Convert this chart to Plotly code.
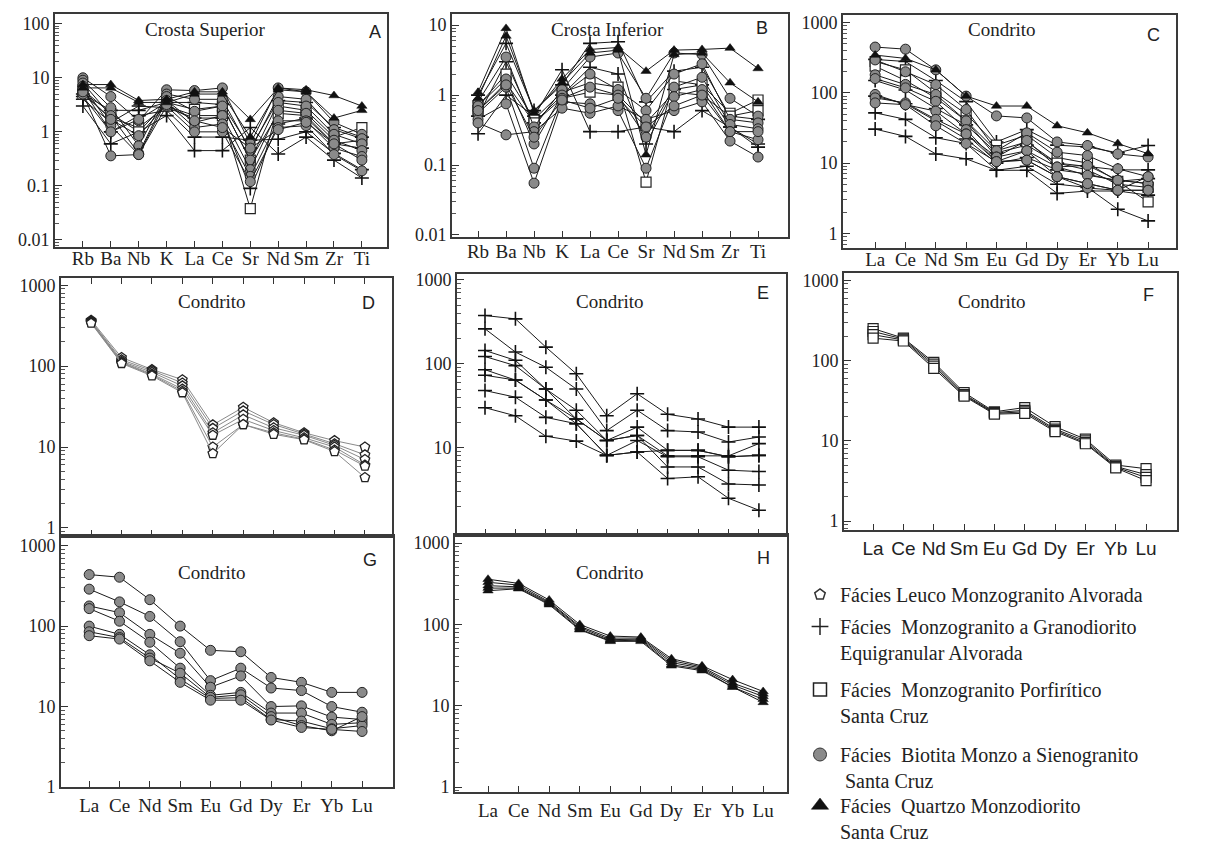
import math
import plotly.graph_objects as go

W, H = 1225, 844

SPIDER = ["Rb", "Ba", "Nb", "K", "La", "Ce", "Sr", "Nd", "Sm", "Zr", "Ti"]
REE = ["La", "Ce", "Nd", "Sm", "Eu", "Gd", "Dy", "Er", "Yb", "Lu"]

# ---------------- Panel A (Crosta Superior) ----------------
A_triangle = [
    [7.5, 7.5, 3.8, 4.0, 5.5, 5.5, 1.7, 6.5, 6.0, 4.7, 3.0],
    [6.5, 6.5, 3.5, 3.5, 5.0, 5.0, 0.8, 6.0, 5.5, 1.8, 2.5],
]
A_circle = [
    [10, 4.5, 1.6, 6.0, 5.8, 6.5, 0.6, 6.5, 5.5, 1.5, 0.9],
    [9, 2.8, 0.55, 5.0, 4.0, 4.0, 0.45, 4.5, 4.0, 1.1, 0.75],
    [8, 2.0, 0.4, 4.5, 2.4, 3.0, 0.3, 3.5, 3.0, 0.9, 0.6],
    [7, 1.3, 0.38, 3.8, 1.5, 2.0, 0.2, 2.5, 2.2, 0.7, 0.45],
    [6, 1.0, 1.7, 3.5, 1.2, 1.4, 0.15, 1.6, 1.6, 0.5, 0.35],
    [5, 0.36, 0.38, 3.0, 1.0, 1.0, 0.12, 1.2, 1.3, 0.38, 0.19],
    [5.5, 1.7, 0.85, 3.2, 1.6, 1.2, 0.5, 1.1, 1.5, 0.6, 0.3],
]
A_square = [
    [5, 1.8, 1.2, 3.0, 2.0, 2.0, 0.038, 3.0, 2.5, 0.8, 1.2],
    [6, 2.2, 1.0, 3.5, 2.6, 3.0, 0.3, 2.2, 2.0, 0.6, 0.7],
]
A_cross = [
    [3.0, 0.6, 1.0, 2.0, 0.45, 0.45, 1.2, 0.39, 0.8, 0.3, 0.14],
    [4.5, 1.0, 2.0, 2.5, 0.8, 0.8, 0.7, 0.73, 1.0, 0.4, 0.2],
    [5, 2.5, 2.5, 3.5, 3.5, 3.2, 0.5, 3.8, 3.5, 1.2, 0.8],
    [4, 1.5, 3.0, 2.8, 1.8, 1.8, 0.09, 1.4, 1.8, 0.6, 0.5],
]

# ---------------- Panel B (Crosta Inferior) ----------------
B_triangle = [
    [1.1, 9, 0.55, 1.7, 4.5, 4.8, 2.2, 4.4, 4.5, 4.7, 2.4],
    [0.9, 7, 0.6, 1.5, 4.0, 4.4, 0.14, 3.8, 4.0, 1.5, 0.8],
]
B_circle = [
    [0.8, 3.5, 0.35, 1.2, 3.5, 4.0, 0.9, 4.0, 3.8, 0.9, 0.5],
    [0.7, 1.7, 0.2, 1.0, 2.0, 1.2, 0.6, 2.0, 2.8, 0.45, 0.4],
    [0.55, 1.3, 0.09, 0.9, 1.3, 1.0, 0.25, 1.3, 1.8, 0.38, 0.33],
    [0.45, 0.75, 0.055, 0.8, 0.75, 0.6, 0.09, 0.95, 1.2, 0.3, 0.23],
    [0.4, 0.27, 0.3, 0.65, 0.55, 0.7, 0.45, 0.6, 0.8, 0.22, 0.13],
    [0.6, 1.4, 0.25, 0.85, 0.65, 0.9, 0.35, 0.7, 1.0, 0.3, 0.3],
]
B_square = [
    [0.7, 2.0, 0.45, 1.1, 1.5, 1.3, 0.057, 1.6, 1.4, 0.55, 0.85],
    [0.6, 1.5, 0.4, 0.9, 1.1, 1.0, 0.4, 1.1, 1.0, 0.5, 0.6],
]
B_cross = [
    [0.28, 1.0, 0.5, 2.3, 0.3, 0.3, 0.35, 0.3, 0.6, 0.35, 0.2],
    [1.0, 5.5, 0.6, 1.4, 5.5, 5.8, 0.8, 2.2, 2.5, 0.5, 0.45],
    [0.5, 3.0, 0.4, 1.0, 2.5, 2.0, 0.2, 1.2, 1.4, 0.35, 0.18],
]

# ---------------- Panel C (Condrito, all facies) ----------------
C_circle = [
    [450, 420, 213, 90, 47, 44, 20, 17.8, 13.5, 12.2],
    [295, 200, 131, 58, 15, 27, 14.3, 12.8, 8.3, 6.4],
    [181, 132, 95, 40, 12.2, 21, 8.8, 9.3, 5.7, 5.1],
    [160, 118, 76, 30, 10.5, 15, 8.8, 6.7, 5.7, 5.1],
    [95, 68, 55, 26, 12.2, 15, 6.4, 5.1, 4.1, 4.1],
    [85, 72, 42, 26, 10.5, 11, 6.4, 4.4, 4.1, 6.4],
    [72, 68, 34, 19, 10.5, 11, 6.4, 5.1, 4.1, 4.1],
]
C_cross = [
    [300, 280, 150, 75, 20, 30, 18, 17, 14, 17.8],
    [150, 110, 60, 35, 14, 18, 10, 9, 8, 8],
    [90, 70, 40, 22, 10, 12, 8, 7, 5.5, 6],
    [52, 42, 23, 19, 7.9, 9, 5, 4.5, 2.2, 1.5],
    [30.5, 24, 13.5, 11.5, 7.9, 7.9, 3.7, 4, 4, 3.5],
]
C_square = [
    [280, 213, 100, 50, 18, 25, 12, 10, 5.5, 2.8],
    [240, 150, 85, 40, 15, 20, 10, 8, 5, 4.5],
]
C_triangle = [
    [346, 310, 213, 90, 65, 65, 34, 27, 19, 13.6],
]

# ---------------- Panel D (Leuco Monzogranito) ----------------
D_pentagon = [
    [370, 128, 91, 68, 18.8, 31, 20, 15, 12, 10],
    [360, 120, 88, 62, 17, 28, 19, 14.5, 11, 8],
    [355, 115, 84, 57, 15, 25, 17.3, 14, 10.5, 7],
    [350, 112, 80, 52, 14, 22, 16, 13, 10, 6],
    [345, 110, 78, 49, 10, 19, 15, 12.5, 9.2, 5.8],
    [340, 108, 76, 47, 8.3, 19, 14.4, 12.3, 8.8, 4.2],
]

# ---------------- Panel E (Monzogranito a Granodiorito) ----------------
E_cross = [
    [376, 343, 158, 76, 24, 44, 25, 22, 17.6, 17.6],
    [261, 138, 91, 50, 16, 28, 16, 15.4, 11.7, 13.4],
    [144, 110, 50, 28, 12.2, 17.6, 9.3, 9.3, 7.8, 8.1],
    [122, 95, 50, 22, 12.2, 14, 8.0, 8.0, 8.0, 11.2],
    [85, 64, 37, 19.3, 8.1, 12.2, 7.8, 7.8, 5.4, 5.2],
    [73, 64, 37, 22, 12.2, 14, 5.9, 5.9, 3.7, 3.6],
    [48, 40, 23, 19.3, 8.1, 8.9, 4.3, 4.5, 2.5, 1.8],
    [30, 24, 13.7, 12, 8.1, 8.9, 9.3, 9.3, 7.8, 8.1],
]

# ---------------- Panel F (Monzogranito Porfiritico) ----------------
F_square = [
    [250, 190, 95, 40, 23, 26, 15, 10.5, 5.0, 4.5],
    [230, 185, 90, 38, 22.5, 24, 14, 10, 4.8, 3.8],
    [210, 180, 85, 37, 22, 23, 13.5, 9.5, 4.7, 3.5],
    [190, 175, 80, 36, 21.5, 22, 13, 9.2, 4.6, 3.2],
]

# ---------------- Panel G (Biotita Monzo a Sienogranito) ----------------
G_circle = [
    [437, 405, 213, 100, 50, 48, 23, 20, 15, 15],
    [288, 200, 132, 64, 21, 30, 17, 15.8, 10, 8.5],
    [178, 147, 79, 46, 17.4, 24, 10, 10.2, 7.4, 6.9],
    [165, 115, 63, 30, 13.8, 15, 8.3, 8.3, 6.0, 6.3],
    [100, 79, 44, 22, 12.6, 12.9, 6.9, 6.6, 5.3, 5.8],
    [85, 72, 40, 26, 13, 14, 7.5, 5.8, 5.0, 7.5],
    [76, 69, 37, 20, 12, 12, 6.8, 5.5, 5.2, 4.9],
]

# ---------------- Panel H (Quartzo Monzodiorito) ----------------
H_triangle = [
    [360, 320, 200, 100, 72, 70, 38, 31, 21, 15],
    [330, 305, 190, 95, 68, 68, 36, 30, 19, 14],
    [300, 290, 185, 92, 65, 66, 34, 29, 18, 13],
    [280, 280, 180, 88, 63, 64, 32, 28, 17, 12],
    [260, 275, 175, 86, 62, 62, 31, 27, 17, 11],
]

LEGEND_NAMES = {
    "pentagon": "Fácies Leuco Monzogranito Alvorada",
    "cross": "Fácies\u00a0 Monzogranito a Granodiorito<br>Equigranular Alvorada",
    "square": "Fácies\u00a0 Monzogranito Porfirítico<br>Santa Cruz",
    "circle": "Fácies\u00a0 Biotita Monzo a Sienogranito<br>\u00a0Santa Cruz",
    "triangle": "Fácies\u00a0 Quartzo Monzodiorito<br>Santa Cruz",
}

# ---------------- styles ----------------
SERIF = "Liberation Serif, Times New Roman, serif"
SANS = "Liberation Sans, Arial, sans-serif"
INK = "#222222"
FRAME = "#3a3a3a"

MARKERS = {
    "circle": dict(symbol="circle", size=10, color="#8a8a8a", line=dict(color="#222", width=1)),
    "cross": dict(symbol="cross-thin-open", size=10, color="#111", line=dict(color="#111", width=1.6)),
    "square": dict(symbol="square", size=10, color="white", line=dict(color="#222", width=1.2)),
    "triangle": dict(symbol="triangle-up", size=9, color="#111", line=dict(color="#111", width=0.5)),
    "pentagon": dict(symbol="pentagon", size=10, color="white", line=dict(color="#222", width=1.3)),
}
LINES = {
    "circle": dict(color="#1a1a1a", width=1),
    "cross": dict(color="#1a1a1a", width=1),
    "square": dict(color="#1a1a1a", width=1),
    "triangle": dict(color="#1a1a1a", width=1),
    "pentagon": dict(color="#8a8a8a", width=1),
}

LOG_LABELS = {0.01: "0.01", 0.1: "0.1", 1: "1", 10: "10", 100: "100", 1000: "1000"}

panels = [
    dict(box=(55, 387, 14, 247), yr=(-2.13, 2.18), xr=(-1.0, 10.9), cats=SPIDER,
         yt=[0.01, 0.1, 1, 10, 100], xlab=True, standoff=-7, title="Crosta Superior", tpos=(205, 29),
         letter="A", lpos=(375, 32),
         groups=[("cross", A_cross), ("square", A_square), ("circle", A_circle), ("triangle", A_triangle)]),
    dict(box=(452, 788, 14, 237), yr=(-2.03, 1.16), xr=(-0.93, 11.07), cats=SPIDER,
         yt=[0.01, 0.1, 1, 10], xlab=True, standoff=-4, title="Crosta Inferior", tpos=(607, 29),
         letter="B", lpos=(762, 28),
         groups=[("cross", B_cross), ("square", B_square), ("circle", B_circle), ("triangle", B_triangle)]),
    dict(box=(843, 1176, 15, 248), yr=(-0.21, 3.11), xr=(-1.06, 9.92), cats=REE,
         yt=[1, 10, 100, 1000], xlab=True, standoff=-7, title="Condrito", tpos=(1002, 29),
         letter="C", lpos=(1153, 35),
         groups=[("cross", C_cross), ("square", C_square), ("circle", C_circle), ("triangle", C_triangle)]),
    dict(box=(61, 392, 278, 536), yr=(-0.1, 3.09), xr=(-0.99, 9.89), cats=REE,
         yt=[1, 10, 100, 1000], xlab=False, title="Condrito", tpos=(212, 301),
         letter="D", lpos=(368, 303), topticks=True,
         groups=[("pentagon", D_pentagon)]),
    dict(box=(457, 786, 274, 535), yr=(-0.04, 3.07), xr=(-0.92, 9.89), cats=REE,
         yt=[10, 100, 1000], xlab=False, title="Condrito", tpos=(610, 301),
         letter="E", lpos=(763, 293),
         groups=[("cross", E_cross)]),
    dict(box=(844, 1177, 273, 530), yr=(-0.11, 3.09), xr=(-0.96, 10.02), cats=REE,
         yt=[1, 10, 100, 1000], xlab=True, xfont=SANS, title="Condrito", tpos=(992, 301),
         letter="F", lpos=(1148, 295),
         groups=[("square", F_square)]),
    dict(box=(61, 393, 536, 787), yr=(0.0, 3.12), xr=(-0.93, 10.02), cats=REE,
         yt=[1, 10, 100, 1000], xlab=True, title="Condrito", tpos=(212, 572),
         letter="G", lpos=(370, 560),
         groups=[("circle", G_circle)]),
    dict(box=(455, 787, 535, 792), yr=(-0.06, 3.1), xr=(-1.08, 9.78), cats=REE,
         yt=[1, 10, 100, 1000], xlab=True, title="Condrito", tpos=(610, 572),
         letter="H", lpos=(763, 558),
         groups=[("triangle", H_triangle)]),
]

fig = go.Figure()
layout = dict(
    width=W, height=H,
    margin=dict(l=0, r=0, t=0, b=0, autoexpand=False),
    paper_bgcolor="white", plot_bgcolor="white",
    font=dict(family=SERIF, color=INK, size=19),
    annotations=[],
)

for i, p in enumerate(panels, start=1):
    x0, x1, y0, y1 = p["box"]
    xa, ya = f"xaxis{i}", f"yaxis{i}"
    xr_, yr_ = f"x{i}", f"y{i}"
    lo, hi = p["yr"]
    decades = [10 ** k for k in range(-3, 4)]
    minor_vals = [m * d for d in decades for m in range(2, 10) if lo <= math.log10(m * d) <= hi]
    layout[xa] = dict(
        domain=[x0 / W, x1 / W], anchor=yr_, type="category",
        categoryorder="array", categoryarray=p["cats"],
        range=list(p["xr"]), showgrid=False, zeroline=False,
        showline=True, linecolor=FRAME, linewidth=2,
        mirror="ticks" if p.get("topticks") else True,
        ticks="inside", ticklen=6, tickwidth=1.2, tickcolor="#333",
        showticklabels=p["xlab"], ticklabelstandoff=p.get("standoff", 0),
        tickfont=dict(family=p.get("xfont", SERIF), size=19, color=INK),
    )
    layout[ya] = dict(
        domain=[1 - y1 / H, 1 - y0 / H], anchor=xr_, type="log",
        range=list(p["yr"]), showgrid=False, zeroline=False,
        showline=True, linecolor=FRAME, linewidth=2, mirror=True,
        ticks="inside", ticklen=7, tickwidth=1.2, tickcolor="#333",
        tickmode="array", tickvals=p["yt"], ticktext=[LOG_LABELS[v] for v in p["yt"]],
        tickfont=dict(family=SERIF, size=18, color=INK),
        minor=dict(ticks="inside", ticklen=4, tickwidth=1, tickcolor="#555",
                   tickmode="array", tickvals=minor_vals, showgrid=False),
    )
    for kind, series in p["groups"]:
        for vals in series:
            fig.add_trace(go.Scatter(
                x=p["cats"], y=vals, mode="lines+markers",
                xaxis=xr_, yaxis=yr_, showlegend=False, hoverinfo="skip",
                line=LINES[kind], marker=MARKERS[kind],
            ))
    layout["annotations"].append(dict(
        text=p["title"], x=p["tpos"][0] / W, y=1 - p["tpos"][1] / H,
        xref="paper", yref="paper", xanchor="center", yanchor="middle",
        showarrow=False, font=dict(family=SERIF, size=19, color=INK)))
    layout["annotations"].append(dict(
        text=p["letter"], x=p["lpos"][0] / W, y=1 - p["lpos"][1] / H,
        xref="paper", yref="paper", xanchor="center", yanchor="middle",
        showarrow=False, font=dict(family=SANS, size=18, color=INK)))

LEG_MARKERS = {
    "pentagon": dict(symbol="pentagon", size=11, color="white", line=dict(color="#333", width=1.5)),
    "cross": dict(symbol="cross-thin-open", size=12, color="#222", line=dict(color="#222", width=1.5)),
    "square": dict(symbol="square", size=13, color="white", line=dict(color="#222", width=1.5)),
    "circle": dict(symbol="circle", size=13, color="#8a8a8a", line=dict(color="#333", width=1)),
    "triangle": dict(symbol="triangle-up", size=15, color="#111", line=dict(color="#111", width=0.5)),
}
# one small legend per facies so each entry sits where the reference has it
LEG_ORDER = ["pentagon", "cross", "square", "circle", "triangle"]
LEG_TOP = [575, 607, 670, 735, 786]
for k, kind in enumerate(LEG_ORDER):
    lname = "legend" if k == 0 else f"legend{k + 1}"
    fig.add_trace(go.Scatter(
        x=[None], y=[None], mode="markers", name=LEGEND_NAMES[kind],
        legend=lname, marker=LEG_MARKERS[kind], xaxis="x8", yaxis="y8",
        showlegend=True,
    ))
    layout[lname] = dict(
        x=800 / W, y=1 - LEG_TOP[k] / H, xanchor="left", yanchor="top",
        xref="paper", yref="paper",
        font=dict(family=SERIF, size=20, color=INK),
        bgcolor="rgba(0,0,0,0)", borderwidth=0, valign="top", itemwidth=30,
    )

fig.update_layout(**layout)
fig.write_html("out.html")
